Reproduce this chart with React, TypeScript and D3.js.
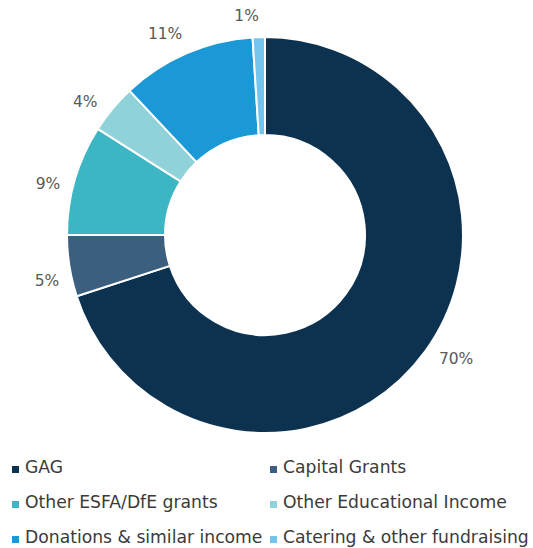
import React from "react";
import * as d3 from "d3";

const categories = [
  "GAG",
  "Capital Grants",
  "Other ESFA/DfE grants",
  "Other Educational Income",
  "Donations & similar income",
  "Catering & other fundraising",
];
const values = [70, 5, 9, 4, 11, 1];
const labels = ["70%", "5%", "9%", "4%", "11%", "1%"];
const colors = ["#0c3250", "#3d5f7f", "#3db6c3", "#90d2da", "#1b98d6", "#74c5ee"];

const W = 533;
const H = 548;
const cx = 265;
const cy = 235;
const rOuter = 198;
const rInner = 100;
const labelGap = 14;
const labelFont = 15.5;
const labelShift = (-3 * Math.PI) / 180;

export default function App() {
  const pie = d3.pie<number>().sort(null).value((d) => d);
  const arcs = pie(values);
  const arc = d3.arc<d3.PieArcDatum<number>>().innerRadius(rInner).outerRadius(rOuter);

  const legendCols = [12, 270];
  const legendRows = [467, 502, 537];

  return (
    <svg
      width={W}
      height={H}
      style={{ position: "absolute", left: 0, top: 0, background: "#fff" }}
      fontFamily="DejaVu Sans, Verdana, sans-serif"
    >
      <g transform={`translate(${cx},${cy})`}>
        {arcs.map((a, i) => (
          <path key={i} d={arc(a) || ""} fill={colors[i]} stroke="#fff" strokeWidth={2} />
        ))}
        {arcs.map((a, i) => {
          const ang = (a.startAngle + a.endAngle) / 2 + labelShift;
          const sx = Math.sin(ang);
          const sy = -Math.cos(ang);
          const hw = (labels[i].length * labelFont * 0.62) / 2;
          const hh = labelFont * 0.45;
          const r = rOuter + labelGap + Math.abs(sx) * hw + Math.abs(sy) * hh;
          return (
            <text
              key={"l" + i}
              x={sx * r}
              y={sy * r}
              textAnchor="middle"
              dominantBaseline="central"
              fontSize={labelFont}
              fill="#595959"
            >
              {labels[i]}
            </text>
          );
        })}
      </g>
      {categories.map((c, i) => {
        const x = legendCols[i % 2];
        const y = legendRows[Math.floor(i / 2)];
        return (
          <g key={"g" + i} transform={`translate(${x},${y})`}>
            <rect x={0} y={-1} width={7} height={7} fill={colors[i]} />
            <text x={13} y={0} dominantBaseline="central" fontSize={17.2} fill="#3a3a3a">
              {c}
            </text>
          </g>
        );
      })}
    </svg>
  );
}
